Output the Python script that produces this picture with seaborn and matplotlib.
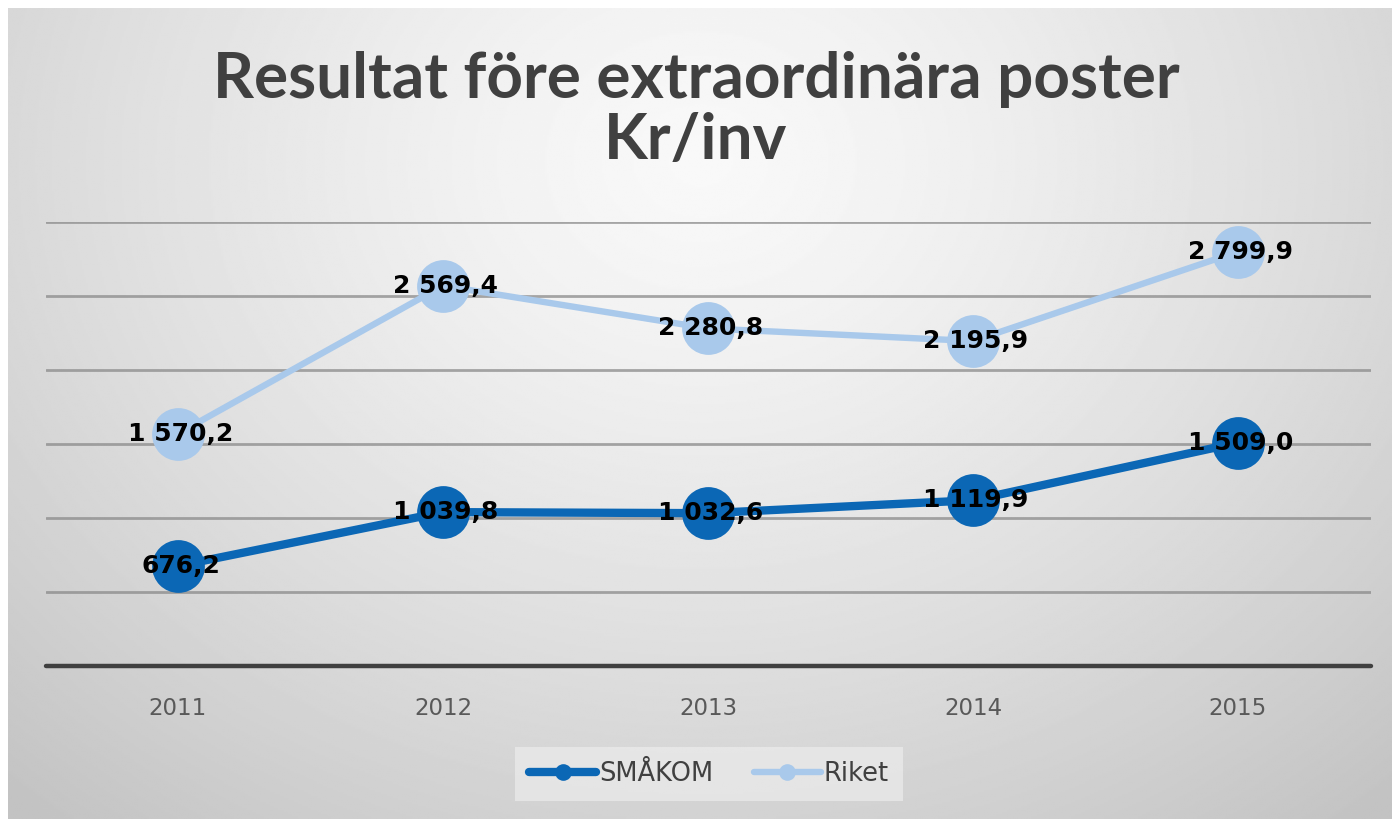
import numpy as np
import pandas as pd
import matplotlib
matplotlib.use("Agg")
import matplotlib.pyplot as plt
from matplotlib.lines import Line2D
import seaborn as sns

years = ["2011", "2012", "2013", "2014", "2015"]
smakom = [676.2, 1039.8, 1032.6, 1119.9, 1509.0]
riket = [1570.2, 2569.4, 2280.8, 2195.9, 2799.9]
series_names = ["SMÅKOM", "Riket"]
colors = ["#0b67b5", "#a9c9eb"]
title = "Resultat före extraordinära poster\nKr/inv"

sns.set_theme(style="white")
plt.rcParams["font.family"] = ["DejaVu Sans"]

fig = plt.figure(figsize=(13.92, 8.19), dpi=100)
fig.patch.set_facecolor("white")

# gradient background
W, H = 1392, 819
bg = fig.add_axes([8 / W, 0, 1 - 8 / W, 1 - 8 / H])
bg.set_axis_off()
yy, xx = np.mgrid[0:400, 0:700]
cx, cy = 350, 75
d = np.sqrt(((xx - cx) / 520.0) ** 2 + ((yy - cy) / 420.0) ** 2)
d = np.clip(d, 0, 1)
val = 0.975 - 0.21 * d ** 1.3
bg.imshow(val, cmap="gray", vmin=0, vmax=1, aspect="auto", extent=[0, 1, 0, 1], origin="upper")
bg.set_xlim(0, 1)
bg.set_ylim(0, 1)

ax = fig.add_axes([45.5 / W, 153 / H, 1325 / W, 444 / H])
ax.patch.set_alpha(0)

df = pd.DataFrame({
    "Year": years * 2,
    "Value": smakom + riket,
    "Serie": [series_names[0]] * len(years) + [series_names[1]] * len(years),
})
df["x"] = list(range(len(years))) * 2

for name, col, lw in zip(series_names, colors, [6.0, 4.6]):
    sub = df[df["Serie"] == name]
    sns.lineplot(data=sub, x="x", y="Value", ax=ax, color=col, linewidth=lw,
                 marker="o", markersize=38, markeredgewidth=0, zorder=3, legend=False)
    for xv, yv in zip(sub["x"], sub["Value"]):
        lbl = f"{yv:,.1f}".replace(",", " ").replace(".", ",")
        ax.text(xv + 0.01, yv, lbl, ha="center", va="center", fontsize=18,
                fontweight="bold", color="black", zorder=5)

ax.set_xlim(-0.5, len(years) - 0.5)
ax.set_ylim(0, 3000)
for yv in [500, 1000, 1500, 2000, 2500, 3000]:
    ax.axhline(yv, color="#8a8a8a", linewidth=2, alpha=0.75, zorder=1)
ax.axhline(0, color="#404040", linewidth=3.2, zorder=2, clip_on=False)
ax.set_yticks([])
ax.set_xticks(range(len(years)))
ax.set_xticklabels(years, fontsize=16.5, color="#595959")
ax.tick_params(axis="x", length=0, pad=22)
ax.set_xlabel("")
ax.set_ylabel("")
for s in ax.spines.values():
    s.set_visible(False)

fig.text(0.5, 1 - 110 / H, title, ha="center", va="center", fontsize=46,
         fontweight="bold", color="#404040", linespacing=1.1,
         family=["Lato", "DejaVu Sans"])

handles = [Line2D([0], [0], color=c, lw=lw, marker="o", markersize=12, markeredgewidth=0)
           for c, lw in zip(colors, [6.0, 4.6])]
leg = fig.legend(handles, series_names, loc="center", bbox_to_anchor=(709 / W, 1 - 774 / H),
                 ncol=2, fontsize=18.5, frameon=True, handlelength=2.6, columnspacing=1.6,
                 handletextpad=0.1, borderpad=0.55, fancybox=False)
leg.get_frame().set_facecolor("#ececec")
leg.get_frame().set_edgecolor("none")
leg.get_frame().set_alpha(0.7)
for t in leg.get_texts():
    t.set_color("#404040")

fig.savefig("out.png", dpi=100, facecolor="white")
